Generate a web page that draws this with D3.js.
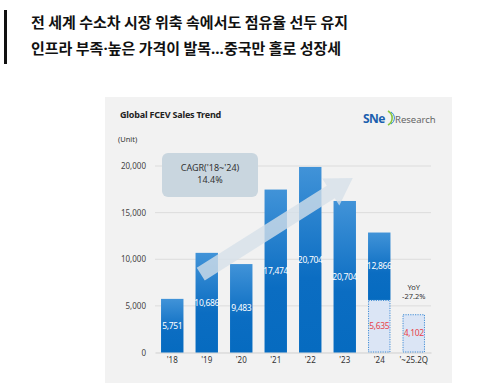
<!DOCTYPE html>
<html>
<head>
<meta charset="utf-8">
<script src="https://cdn.jsdelivr.net/npm/d3@7"></script>
<style>
  body { margin: 0; background: #fff; }
  svg { display: block; font-family: "Noto Sans", "Noto Sans CJK KR", sans-serif; }
</style>
</head>
<body>
<div class="chart"></div>
<script>
// headline lines, split so the small punctuation can use a narrow font
const headline1 = [["전 세계 수소차 시장 위축 속에서도 점유율 선두 유지", false]];
const headline2 = [["인프라 부족", false], ["·", true], ["높은 가격이 발목", false], ["…", true], ["중국만 홀로 성장세", false]];

// categories and values
const years = ["'18", "'19", "'20", "'21", "'22", "'23", "'24", "'~25.2Q"];
const sales = [5751, 10686, 9483, 17474, 19900, 16250, 12866, 4102];
const labels = ["5,751", "10,686", "9,483", "17,474", "20,704", "20,704", "12,866", "4,102"];
// the '24 bar has a dotted lower part, and the last bar is fully dotted
const halfYear = [null, null, null, null, null, null, 5635, 4102];
const halfLabels = [null, null, null, null, null, null, "5,635", "4,102"];
const yTicks = [0, 5000, 10000, 15000, 20000];

const width = 481, height = 388;
const svg = d3.select(".chart").append("svg")
  .attr("width", width).attr("height", height);

// headline block
svg.append("rect").attr("x", 4).attr("y", 10).attr("width", 3).attr("height", 54).attr("fill", "#111");
[headline1, headline2].forEach((parts, i) => {
  const t = svg.append("text").attr("x", 31).attr("y", 28 + i * 26)
    .attr("font-family", "'Noto Sans CJK KR', sans-serif")
    .attr("font-weight", 700).attr("font-size", 15).attr("fill", "#111");
  t.selectAll("tspan").data(parts).join("tspan")
    .attr("font-family", d => d[1] ? "'Noto Sans', sans-serif" : null)
    .text(d => d[0]);
});

// grey panel
svg.append("rect").attr("x", 105).attr("y", 97).attr("width", 347).attr("height", 286).attr("fill", "#f2f2f2");

svg.append("text").attr("x", 120).attr("y", 118).attr("font-size", 9).attr("font-weight", 700)
  .attr("fill", "#222").attr("letter-spacing", -0.2).text("Global FCEV Sales Trend");
svg.append("text").attr("x", 118).attr("y", 142).attr("font-size", 7.5).attr("fill", "#333").text("(Unit)");

// logo
const logo = svg.append("g");
logo.append("text").attr("x", 363).attr("y", 123).attr("font-size", 12).attr("font-weight", 700)
  .attr("fill", "#1b5fae").attr("letter-spacing", -0.5).text("SNe");
logo.append("path").attr("d", "M388,111 A8,8 0 0 1 388,125").attr("fill", "none").attr("stroke", "#8cc63f").attr("stroke-width", 1.6);
logo.append("path").attr("d", "M391,112 A7,7 0 0 1 391,124").attr("fill", "none").attr("stroke", "#2a8ad4").attr("stroke-width", 1);
logo.append("text").attr("x", 395).attr("y", 123).attr("font-size", 9.5).attr("fill", "#666").text("Research");

// scales
const x = d3.scaleBand().domain(years).range([155, 431]).paddingInner(0.35).paddingOuter(0.175);
const y = d3.scaleLinear().domain([0, 20000]).range([352.5, 166]);

// gridlines
svg.append("g").selectAll("line").data(yTicks.slice(1)).join("line")
  .attr("x1", 155).attr("x2", 431).attr("y1", d => y(d)).attr("y2", d => y(d))
  .attr("stroke", "#dcdcdc").attr("stroke-width", 1);

// y axis labels
const yAxis = svg.append("g").attr("transform", "translate(146,0)")
  .call(d3.axisLeft(y).tickValues(yTicks).tickSize(0).tickPadding(0).tickFormat(d3.format(",")));
yAxis.select(".domain").remove();
yAxis.selectAll("text").attr("font-size", 8).attr("fill", "#444").attr("font-family", "'Noto Sans', sans-serif");

// x axis
const xAxis = svg.append("g").attr("transform", `translate(0,${y(0)})`)
  .call(d3.axisBottom(x).tickSize(0).tickPadding(5));
xAxis.select(".domain").attr("stroke", "#cfcfcf");
xAxis.selectAll("text").attr("font-size", 8).attr("fill", "#333").attr("font-family", "'Noto Sans', sans-serif");

// gradient for bars
const grad = svg.append("defs").append("linearGradient").attr("id", "barGrad")
  .attr("x1", 0).attr("y1", 0).attr("x2", 0).attr("y2", 1);
grad.append("stop").attr("offset", 0).attr("stop-color", "#4193d8");
grad.append("stop").attr("offset", 0.6).attr("stop-color", "#0b6dc2");
grad.append("stop").attr("offset", 1).attr("stop-color", "#066bc0");

const rows = years.map((yr, i) => ({yr, v: sales[i], label: labels[i], h: halfYear[i], hl: halfLabels[i]}));

// solid bars (from the dotted part up, if any)
svg.append("g").selectAll("rect").data(rows.filter(d => d.h === null || d.h < d.v)).join("rect")
  .attr("x", d => x(d.yr)).attr("width", x.bandwidth())
  .attr("y", d => y(d.v))
  .attr("height", d => y(d.h === null ? 0 : d.h) - y(d.v))
  .attr("fill", "url(#barGrad)");

// dotted parts
svg.append("g").selectAll("rect").data(rows.filter(d => d.h !== null)).join("rect")
  .attr("x", d => x(d.yr) + 0.5).attr("width", x.bandwidth() - 1)
  .attr("y", d => y(d.h) + 0.5).attr("height", d => y(0) - y(d.h) - 1)
  .attr("fill", "#dbe5f5").attr("stroke", "#3f8cd6").attr("stroke-width", 1).attr("stroke-dasharray", "1.2,1.2");

// arrow (annotation), placed via the scales
const S = [x("'19") + x.bandwidth() / 2 - 6, y(8400)];
const T = [x("'23") + x.bandwidth() / 2 + 8, y(18700)];
const len = Math.hypot(T[0] - S[0], T[1] - S[1]);
const ang = Math.atan2(T[1] - S[1], T[0] - S[0]) * 180 / Math.PI;
const headL = 26, headW = 16, shaftW = 7.5;
svg.append("path")
  .attr("transform", `translate(${S[0]},${S[1]}) rotate(${ang})`)
  .attr("d", `M0,${-shaftW} L${len - headL},${-shaftW} L${len - headL},${-headW} L${len},0 L${len - headL},${headW} L${len - headL},${shaftW} L0,${shaftW} Z`)
  .attr("fill", "#d6e0e9").attr("opacity", 0.78);

// bar value labels
svg.append("g").selectAll("text").data(rows.filter(d => d.h === null || d.h < d.v)).join("text")
  .attr("x", d => x(d.yr) + x.bandwidth() / 2)
  .attr("y", d => (y(d.v) + y(d.h === null ? 0 : d.h)) / 2 + 3)
  .attr("text-anchor", "middle").attr("font-size", 8.5).attr("fill", "#fff")
  .attr("letter-spacing", -0.3).attr("font-family", "'Noto Sans', sans-serif")
  .text(d => d.label);

svg.append("g").selectAll("text").data(rows.filter(d => d.h !== null)).join("text")
  .attr("x", d => x(d.yr) + x.bandwidth() / 2)
  .attr("y", d => (y(d.h) + y(0)) / 2 + 3)
  .attr("text-anchor", "middle").attr("font-size", 8.5).attr("fill", "#e8424b")
  .attr("letter-spacing", -0.3).attr("font-family", "'Noto Sans', sans-serif")
  .text(d => d.hl);

// YoY note
const last = years[years.length - 1];
const cx = x(last) + x.bandwidth() / 2;
svg.append("text").attr("x", cx).attr("y", 290).attr("text-anchor", "middle")
  .attr("font-size", 7.5).attr("fill", "#333").text("YoY");
svg.append("text").attr("x", cx).attr("y", 299).attr("text-anchor", "middle")
  .attr("font-size", 7.5).attr("fill", "#333").text("-27.2%");

// CAGR box
svg.append("rect").attr("x", 162).attr("y", 153).attr("width", 96).attr("height", 44).attr("rx", 6)
  .attr("fill", "#c9d6df");
svg.append("text").attr("x", 210).attr("y", 171).attr("text-anchor", "middle")
  .attr("font-size", 9).attr("fill", "#333").text("CAGR('18~'24)");
svg.append("text").attr("x", 210).attr("y", 183).attr("text-anchor", "middle")
  .attr("font-size", 9).attr("fill", "#333").text("14.4%");
</script>
</body>
</html>
